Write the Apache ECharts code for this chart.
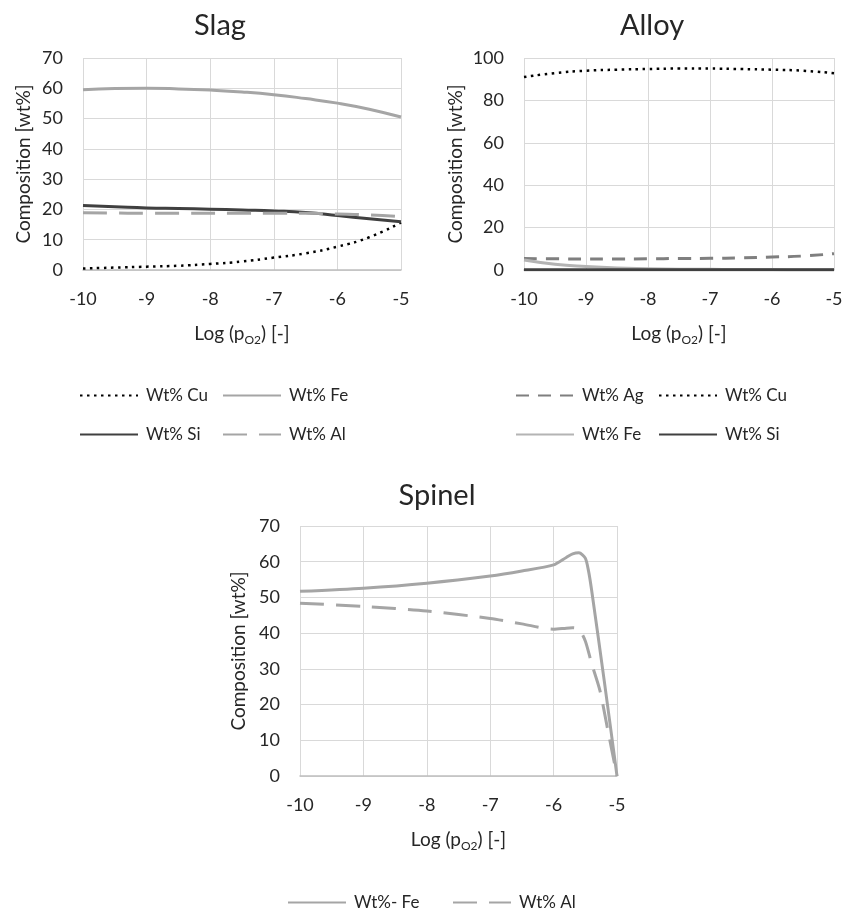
<!DOCTYPE html>
<html>
<head>
<meta charset="utf-8">
<script src="https://cdn.jsdelivr.net/npm/echarts@6/dist/echarts.min.js"></script>
<style>
html,body{margin:0;padding:0;background:#fff;}
#chart{width:856px;height:912px;}
</style>
</head>
<body>
<div id="chart"></div>
<script>
// ---- Data ----
const xLog = [-10, -9.5, -9, -8.5, -8, -7.5, -7, -6.5, -6, -5.5, -5];

const slagCu = [0.5, 0.8, 1.1, 1.4, 2.0, 2.8, 4.1, 5.5, 7.7, 10.8, 15.7];
const slagFe = [59.5, 59.9, 60.0, 59.8, 59.4, 58.8, 57.9, 56.6, 55.1, 53.1, 50.5];
const slagSi = [21.3, 20.9, 20.5, 20.3, 20.1, 19.8, 19.5, 19.0, 18.0, 16.9, 15.9];
const slagAl = [18.9, 18.8, 18.7, 18.7, 18.7, 18.7, 18.7, 18.7, 18.5, 18.2, 17.6];

const alloyAg = [5.4, 5.3, 5.2, 5.2, 5.3, 5.4, 5.5, 5.7, 6.1, 6.6, 7.7];
const alloyCu = [91.0, 92.9, 94.0, 94.5, 94.8, 95.0, 95.0, 94.8, 94.5, 94.0, 92.8];
const alloyFe = [4.7, 2.7, 1.6, 0.9, 0.6, 0.4, 0.3, 0.2, 0.2, 0.1, 0.1];
const alloySi = [0.1, 0.1, 0.1, 0.1, 0.1, 0.1, 0.1, 0.1, 0.1, 0.1, 0.1];

const xSpinelFe = [-10, -9, -8, -7, -6.5, -6, -5.8, -5.7, -5.6, -5.5, -5.45, -5.4, -5.2, -5];
const spinelFe = [51.7, 52.6, 54.0, 56.0, 57.4, 59.1, 61.2, 62.2, 62.5, 61.0, 57.5, 52.0, 26.5, 0];
const xSpinelAl = [-10, -9, -8, -7, -6.5, -6, -5.8, -5.7, -5.6, -5.5, -5.4, -5.27, -5.15, -5];
const spinelAl = [48.4, 47.5, 46.2, 44.1, 42.6, 41.1, 41.4, 41.5, 41.1, 37.8, 31.5, 24.0, 13.3, 0];

const titles = ['Slag', 'Alloy', 'Spinel'];
const yAxisName = 'Composition [wt%]';
const xAxisName = '{m|Log (p}{s|O2}{m|) [-]}';

// ---- Helpers ----
const FONT = 'Lato';
const TXT = '#262626';
const pairs = (xs, ys) => xs.map((x, i) => [x, ys[i]]);

function xAxisFor(gi) {
  return {
    type: 'value', gridIndex: gi, min: -10, max: -5, interval: 1,
    axisLine: { show: true, lineStyle: { color: '#bfbfbf', width: 1.5 } },
    axisTick: { show: false },
    splitLine: { show: true, lineStyle: { color: '#d9d9d9', width: 1 } },
    axisLabel: { fontFamily: FONT, fontSize: 18, color: TXT, margin: 20 },
    name: xAxisName, nameLocation: 'middle', nameGap: 54,
    nameTextStyle: {
      rich: {
        m: { fontFamily: FONT, fontSize: 19, color: TXT, lineHeight: 22, verticalAlign: 'top' },
        s: { fontFamily: FONT, fontSize: 12, color: TXT, lineHeight: 12, verticalAlign: 'bottom' }
      },
      lineHeight: 24
    }
  };
}
function yAxisFor(gi, max, interval, gap) {
  return {
    type: 'value', gridIndex: gi, min: 0, max: max, interval: interval,
    axisLine: { show: false }, axisTick: { show: false },
    splitLine: { show: true, lineStyle: { color: '#d9d9d9', width: 1 } },
    axisLabel: { fontFamily: FONT, fontSize: 18, color: TXT, margin: 20 },
    name: yAxisName, nameLocation: 'middle', nameGap: gap,
    nameTextStyle: { fontFamily: FONT, fontSize: 19, color: TXT }
  };
}
function line(name, gi, data, color, width, type, smooth, z) {
  return {
    type: 'line', name: name, xAxisIndex: gi, yAxisIndex: gi,
    data: data, showSymbol: false, symbol: 'none', smooth: smooth,
    lineStyle: { color: color, width: width, type: type, cap: 'butt', join: 'round' },
    itemStyle: { color: color },
    z: z || 2, animation: false
  };
}
function legendItem(name, left, top, prefix) {
  return {
    data: [name], left: left, top: top, selectedMode: false,
    itemWidth: 58, itemHeight: 12, padding: 0,
    itemStyle: { opacity: 0, borderWidth: 0 },
    formatter: n => prefix ? n.replace(prefix, '') : n,
    textStyle: { fontFamily: FONT, fontSize: 17, color: TXT, padding: [0, 0, 0, 3] }
  };
}

const DOT = [2.5, 4.5];
const LONGDASH = [24, 12];
const DASH = [13, 9];

const option = {
  backgroundColor: '#ffffff',
  animation: false,
  grid: [
    { left: 83, top: 58, width: 318, height: 212 },
    { left: 524, top: 58, width: 310, height: 212 },
    { left: 300, top: 526, width: 317, height: 250 }
  ],
  xAxis: [xAxisFor(0), xAxisFor(1), xAxisFor(2)],
  yAxis: [yAxisFor(0, 70, 10, 50), yAxisFor(1, 100, 20, 59), yAxisFor(2, 70, 10, 52)],
  legend: [
    legendItem('Wt% Cu', 79, 387),
    legendItem('Wt% Fe', 222, 387),
    legendItem('Wt% Si', 79, 426),
    legendItem('Wt% Al', 222, 426),
    legendItem('Alloy Wt% Ag', 515, 387, 'Alloy '),
    legendItem('Alloy Wt% Cu', 658, 387, 'Alloy '),
    legendItem('Alloy Wt% Fe', 515, 426, 'Alloy '),
    legendItem('Alloy Wt% Si', 658, 426, 'Alloy '),
    legendItem('Wt%- Fe', 287, 894),
    legendItem('Spinel Wt% Al', 452, 894, 'Spinel ')
  ],
  graphic: [
    { type: 'text', x: 220, y: 26, style: { text: titles[0], font: '29px Lato', fill: TXT, align: 'center', verticalAlign: 'middle' } },
    { type: 'text', x: 652, y: 26, style: { text: titles[1], font: '29px Lato', fill: TXT, align: 'center', verticalAlign: 'middle' } },
    { type: 'text', x: 437, y: 496, style: { text: titles[2], font: '29px Lato', fill: TXT, align: 'center', verticalAlign: 'middle' } }
  ],
  series: [
    line('Wt% Cu', 0, pairs(xLog, slagCu), '#000000', 2.5, DOT, true),
    line('Wt% Fe', 0, pairs(xLog, slagFe), '#a5a5a5', 3, 'solid', true),
    line('Wt% Si', 0, pairs(xLog, slagSi), '#404040', 3, 'solid', true),
    line('Wt% Al', 0, pairs(xLog, slagAl), '#a5a5a5', 3, LONGDASH, true),

    line('Alloy Wt% Ag', 1, pairs(xLog, alloyAg), '#7f7f7f', 3, DASH, true),
    line('Alloy Wt% Cu', 1, pairs(xLog, alloyCu), '#000000', 2.5, DOT, true),
    line('Alloy Wt% Fe', 1, pairs(xLog, alloyFe), '#b4b4b4', 3, 'solid', true),
    line('Alloy Wt% Si', 1, pairs(xLog, alloySi), '#404040', 3, 'solid', true, 3),

    line('Wt%- Fe', 2, pairs(xSpinelFe, spinelFe), '#a5a5a5', 3, 'solid', 0.25),
    line('Spinel Wt% Al', 2, pairs(xSpinelAl, spinelAl), '#a5a5a5', 3, LONGDASH, 0.25)
  ]
};

const chart = echarts.init(document.getElementById('chart'), null, { renderer: 'canvas' });
chart.setOption(option);
</script>
</body>
</html>
